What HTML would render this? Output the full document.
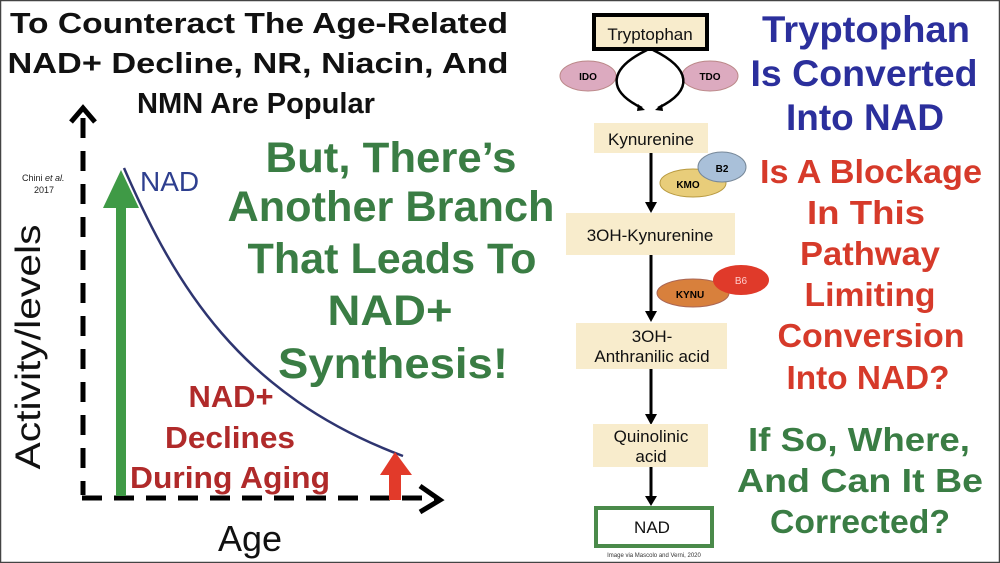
<!DOCTYPE html>
<html><head><meta charset="utf-8"><style>
body{margin:0;width:1000px;height:563px;background:#fff;overflow:hidden;font-family:"Liberation Sans",sans-serif;}
svg{display:block}
</style></head><body>
<svg width="1000" height="563" viewBox="0 0 1000 563" xmlns="http://www.w3.org/2000/svg" font-family="Liberation Sans, sans-serif">
<rect x="0.5" y="0.5" width="999" height="562" fill="#fff" stroke="#444" stroke-width="1.5"/>
<!-- Title -->
<g font-weight="bold" font-size="29" text-anchor="middle" fill="#111">
<text x="259" y="33" textLength="498" lengthAdjust="spacingAndGlyphs">To Counteract The Age-Related</text>
<text x="258" y="73" textLength="501" lengthAdjust="spacingAndGlyphs">NAD+ Decline, NR, Niacin, And</text>
<text x="256" y="113" textLength="238" lengthAdjust="spacingAndGlyphs">NMN Are Popular</text>
</g>
<!-- axes -->
<line x1="83" y1="118" x2="83" y2="495" stroke="#000" stroke-width="5" stroke-dasharray="20,13"/>
<polyline points="71,122 83,108 95,122" fill="none" stroke="#000" stroke-width="5"/>
<line x1="82" y1="498" x2="438" y2="498" stroke="#000" stroke-width="5" stroke-dasharray="20,12"/>
<polyline points="420,486 440,500 420,512" fill="none" stroke="#000" stroke-width="5"/>
<!-- green arrow -->
<rect x="116" y="200" width="10" height="296" fill="#3f9a46"/>
<polygon points="103,208 121,170 139,208" fill="#3f9a46"/>
<!-- curve -->
<path d="M124,168 C175,285 240,395 403,456" fill="none" stroke="#2e3570" stroke-width="2.5"/>
<text x="140" y="191" font-size="28" fill="#2e3f8f">NAD</text>
<!-- red arrow -->
<rect x="389" y="470" width="12" height="30" fill="#e23a2a"/>
<polygon points="380,475 395,452 412,475" fill="#e23a2a"/>
<g font-weight="bold" font-size="31" text-anchor="middle" fill="#b02a2a">
<text x="231" y="407" textLength="85" lengthAdjust="spacingAndGlyphs">NAD+</text>
<text x="230" y="448" textLength="130" lengthAdjust="spacingAndGlyphs">Declines</text>
<text x="230" y="488" textLength="200" lengthAdjust="spacingAndGlyphs">During Aging</text>
</g>
<text x="250" y="551" font-size="36" text-anchor="middle" fill="#111">Age</text>
<text transform="translate(40,347) rotate(-90)" font-size="35" text-anchor="middle" fill="#111" textLength="245" lengthAdjust="spacingAndGlyphs">Activity/levels</text>
<text x="22" y="181" font-size="9" fill="#222">Chini <tspan font-style="italic">et al.</tspan></text>
<text x="34" y="193" font-size="9" fill="#222">2017</text>
<!-- green middle -->
<g font-weight="bold" font-size="43" text-anchor="middle" fill="#3a7d44">
<text x="391" y="172" textLength="251" lengthAdjust="spacingAndGlyphs">But, There’s</text>
<text x="391" y="221" textLength="327" lengthAdjust="spacingAndGlyphs">Another Branch</text>
<text x="392" y="273" textLength="289" lengthAdjust="spacingAndGlyphs">That Leads To</text>
<text x="390" y="325" textLength="125" lengthAdjust="spacingAndGlyphs">NAD+</text>
<text x="393" y="378" textLength="230" lengthAdjust="spacingAndGlyphs">Synthesis!</text>
</g>
<!-- pathway -->
<rect x="594" y="15" width="113" height="34" fill="#f8eccc" stroke="#000" stroke-width="4"/>
<text x="650" y="40" font-size="17" text-anchor="middle" fill="#111">Tryptophan</text>
<ellipse cx="588" cy="76" rx="28" ry="15" fill="#dcaabf" stroke="#b88" stroke-width="1"/>
<text x="588" y="80" font-size="10" font-weight="bold" text-anchor="middle">IDO</text>
<ellipse cx="710" cy="76" rx="28" ry="15" fill="#dcaabf" stroke="#b88" stroke-width="1"/>
<text x="710" y="80" font-size="10" font-weight="bold" text-anchor="middle">TDO</text>
<path d="M647,50 C610,68 605,90 642,108" fill="none" stroke="#000" stroke-width="2.5"/>
<path d="M653,50 C690,68 695,90 658,108" fill="none" stroke="#000" stroke-width="2.5"/>
<polygon points="638,104 645,110 637,111" fill="#000"/><polygon points="662,104 655,110 663,111" fill="#000"/>
<rect x="594" y="123" width="114" height="30" fill="#f8eccc"/>
<text x="651" y="145" font-size="17" text-anchor="middle" fill="#111">Kynurenine</text>
<line x1="651" y1="153" x2="651" y2="204" stroke="#000" stroke-width="3"/>
<polygon points="645,202 657,202 651,213" fill="#000"/>
<ellipse cx="693" cy="183" rx="33" ry="14" fill="#e8cd7a" stroke="#b89a40" stroke-width="1"/>
<text x="688" y="188" font-size="10" font-weight="bold" text-anchor="middle">KMO</text>
<ellipse cx="722" cy="167" rx="24" ry="15" fill="#a9c0d9" stroke="#789" stroke-width="1"/>
<text x="722" y="172" font-size="10" font-weight="bold" text-anchor="middle">B2</text>
<rect x="566" y="213" width="169" height="42" fill="#f8eccc"/>
<text x="650" y="241" font-size="17" text-anchor="middle" fill="#111">3OH-Kynurenine</text>
<line x1="651" y1="255" x2="651" y2="313" stroke="#000" stroke-width="3"/>
<polygon points="645,311 657,311 651,322" fill="#000"/>
<ellipse cx="693" cy="293" rx="36" ry="14" fill="#d8803c" stroke="#a65" stroke-width="1"/>
<text x="690" y="298" font-size="10" font-weight="bold" text-anchor="middle">KYNU</text>
<ellipse cx="741" cy="280" rx="28" ry="15" fill="#e03a2a"/>
<text x="741" y="284" font-size="10" text-anchor="middle" fill="#fcc">B6</text>
<rect x="576" y="323" width="151" height="46" fill="#f8eccc"/>
<text x="652" y="342" font-size="17" text-anchor="middle" fill="#111">3OH-</text>
<text x="652" y="362" font-size="17" text-anchor="middle" fill="#111">Anthranilic acid</text>
<line x1="651" y1="369" x2="651" y2="416" stroke="#000" stroke-width="3"/>
<polygon points="645,414 657,414 651,425" fill="#000"/>
<rect x="593" y="424" width="115" height="43" fill="#f8eccc"/>
<text x="651" y="442" font-size="17" text-anchor="middle" fill="#111">Quinolinic</text>
<text x="651" y="462" font-size="17" text-anchor="middle" fill="#111">acid</text>
<line x1="651" y1="467" x2="651" y2="498" stroke="#000" stroke-width="3"/>
<polygon points="645,496 657,496 651,506" fill="#000"/>
<rect x="596" y="508" width="116" height="38" fill="#fff" stroke="#4a8a4a" stroke-width="4"/>
<text x="652" y="533" font-size="17" text-anchor="middle" fill="#111">NAD</text>
<text x="654" y="557" font-size="6" text-anchor="middle" fill="#333">Image via Mascolo and Verni, 2020</text>
<!-- right text -->
<g font-weight="bold" font-size="37" text-anchor="middle" fill="#2b2f9c">
<text x="866" y="42" textLength="208" lengthAdjust="spacingAndGlyphs">Tryptophan</text>
<text x="864" y="86" textLength="227" lengthAdjust="spacingAndGlyphs">Is Converted</text>
<text x="865" y="130" textLength="158" lengthAdjust="spacingAndGlyphs">Into NAD</text>
</g>
<g font-weight="bold" font-size="33" text-anchor="middle" fill="#d63a2a">
<text x="871" y="183" textLength="222" lengthAdjust="spacingAndGlyphs">Is A Blockage</text>
<text x="866" y="224" textLength="118" lengthAdjust="spacingAndGlyphs">In This</text>
<text x="870" y="265" textLength="140" lengthAdjust="spacingAndGlyphs">Pathway</text>
<text x="870" y="306" textLength="131" lengthAdjust="spacingAndGlyphs">Limiting</text>
<text x="871" y="347" textLength="187" lengthAdjust="spacingAndGlyphs">Conversion</text>
<text x="868" y="389" textLength="163" lengthAdjust="spacingAndGlyphs">Into NAD?</text>
</g>
<g font-weight="bold" font-size="33" text-anchor="middle" fill="#3a7d44">
<text x="859" y="451" textLength="222" lengthAdjust="spacingAndGlyphs">If So, Where,</text>
<text x="860" y="492" textLength="246" lengthAdjust="spacingAndGlyphs">And Can It Be</text>
<text x="860" y="533" textLength="180" lengthAdjust="spacingAndGlyphs">Corrected?</text>
</g>
</svg>
</body></html>
